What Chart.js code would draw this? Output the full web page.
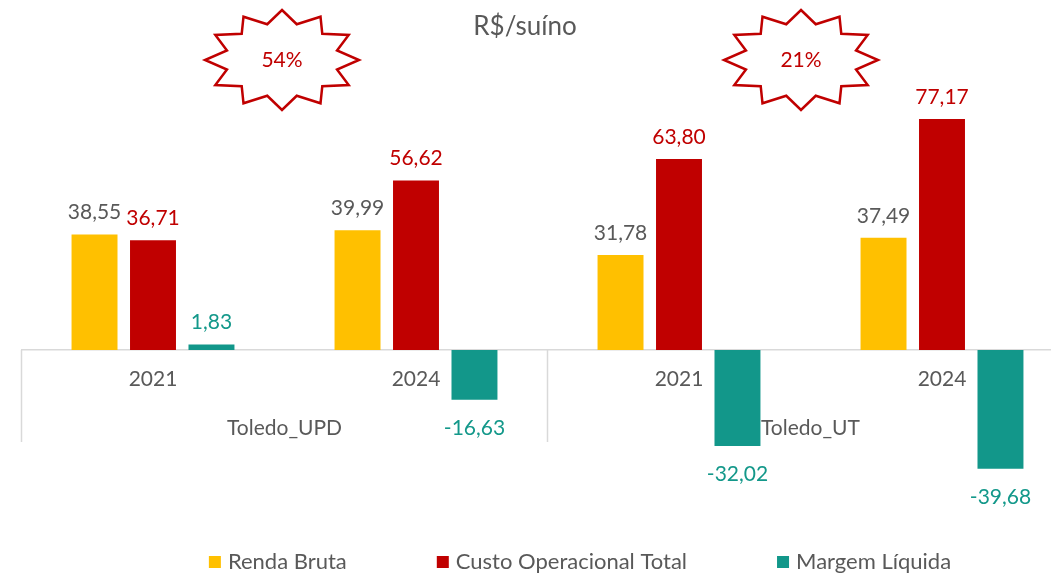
<!DOCTYPE html>
<html>
<head>
<meta charset="utf-8">
<script src="https://cdn.jsdelivr.net/npm/chart.js@4.4.1/dist/chart.umd.min.js"></script>
<style>
  html, body { margin: 0; padding: 0; background: #fff; overflow: hidden; }
  #wrap { width: 1051px; height: 573px; overflow: hidden; position: relative; }
</style>
</head>
<body>
<div id="wrap"><canvas id="c" width="1080" height="573"></canvas></div>
<script>
const years = ['2021', '2024', '2021', '2024'];
const groups = ['Toledo_UPD', 'Toledo_UT'];
const rendaBruta = [38.55, 39.99, 31.78, 37.49];
const custoTotal = [36.71, 56.62, 63.80, 77.17];
const margemLiquida = [1.83, -16.63, -32.02, -39.68];
const variacao = ['54%', '21%'];

const gray = '#595959';
const font = 'Lato, "Open Sans", sans-serif';
const labelColors = [gray, '#C00000', '#13988A'];

function fmt(v) {
  return v.toFixed(2).replace('.', ',');
}

function star(ctx, cx, cy, rx, ry, text) {
  ctx.save();
  ctx.beginPath();
  for (let i = 0; i < 24; i++) {
    let a = i * Math.PI / 12;
    let r = i % 2 === 0 ? 1 : 0.74;
    let px = cx + Math.sin(a) * rx * r;
    let py = cy - Math.cos(a) * ry * r;
    if (i === 0) ctx.moveTo(px, py); else ctx.lineTo(px, py);
  }
  ctx.closePath();
  ctx.fillStyle = '#fff';
  ctx.fill();
  ctx.lineWidth = 2.5;
  ctx.strokeStyle = '#C00000';
  ctx.stroke();
  ctx.fillStyle = '#C00000';
  ctx.font = `21px ${font}`;
  ctx.textAlign = 'center';
  ctx.textBaseline = 'middle';
  ctx.fillText(text, cx, cy);
  ctx.restore();
}

const extras = {
  id: 'extras',
  afterDraw(chart) {
    const ctx = chart.ctx;
    const x = chart.scales.x;
    const y = chart.scales.y;
    const zero = y.getPixelForValue(0);

    // valores nas barras
    ctx.save();
    ctx.font = `21px ${font}`;
    ctx.textAlign = 'center';
    ctx.textBaseline = 'middle';
    chart.data.datasets.forEach((ds, di) => {
      const meta = chart.getDatasetMeta(di);
      ctx.fillStyle = labelColors[di];
      meta.data.forEach((bar, i) => {
        const v = ds.data[i];
        const ty = v >= 0 ? bar.y - 22 : bar.y + 28;
        ctx.fillText(fmt(v), bar.x, ty);
      });
    });

    // separadores e nomes dos grupos
    const step = x.getPixelForValue(1) - x.getPixelForValue(0);
    ctx.strokeStyle = '#D9D9D9';
    ctx.lineWidth = 1.5;
    const seps = [x.getPixelForValue(0) - step / 2, x.getPixelForValue(2) - step / 2, x.getPixelForValue(3) + step / 2];
    seps.forEach(sx => {
      ctx.beginPath();
      ctx.moveTo(sx, zero);
      ctx.lineTo(sx, zero + 92);
      ctx.stroke();
    });
    ctx.fillStyle = gray;
    groups.forEach((g, gi) => {
      const gx = (x.getPixelForValue(gi * 2) + x.getPixelForValue(gi * 2 + 1)) / 2;
      ctx.fillText(g, gx, zero + 78);
    });

    // título
    ctx.font = `26px ${font}`;
    ctx.fillText('R$/suíno', 525, 27);
    ctx.restore();

    // estrelas
    const offs = [-2.5, -9.5];
    variacao.forEach((t, gi) => {
      const gx = (x.getPixelForValue(gi * 2) + x.getPixelForValue(gi * 2 + 1)) / 2 + offs[gi];
      star(ctx, gx, 60, 77, 50, t);
    });

    // legenda
    ctx.save();
    ctx.font = `22px ${font}`;
    ctx.textBaseline = 'middle';
    ctx.textAlign = 'left';
    const gap = 90;
    const widths = chart.data.datasets.map(ds => 12 + 7 + ctx.measureText(ds.label).width);
    const total = widths.reduce((a, b) => a + b, 0) + gap * (widths.length - 1);
    let lx = 580 - total / 2;
    chart.data.datasets.forEach((ds, di) => {
      ctx.fillStyle = ds.backgroundColor;
      ctx.fillRect(lx, 556, 12, 12);
      ctx.fillStyle = gray;
      ctx.fillText(ds.label, lx + 19, 562);
      lx += widths[di] + gap;
    });
    ctx.restore();
  }
};

new Chart(document.getElementById('c'), {
  type: 'bar',
  data: {
    labels: years,
    datasets: [
      { label: 'Renda Bruta', data: rendaBruta, backgroundColor: '#FFC000' },
      { label: 'Custo Operacional Total', data: custoTotal, backgroundColor: '#C00000' },
      { label: 'Margem Líquida', data: margemLiquida, backgroundColor: '#12978A' }
    ]
  },
  options: {
    responsive: false,
    animation: false,
    categoryPercentage: 0.667,
    barPercentage: 0.786,
    layout: { padding: { left: 21.5, right: 6.5, top: 80.6, bottom: 73.3 } },
    plugins: {
      legend: { display: false },
      tooltip: { enabled: false }
    },
    scales: {
      x: {
        position: { y: 0 },
        grid: { display: false, drawTicks: false },
        border: { color: '#D9D9D9', width: 1.5 },
        ticks: { color: gray, font: { family: font, size: 21 }, padding: 17 }
      },
      y: {
        display: false,
        min: -50,
        max: 90
      }
    }
  },
  plugins: [extras]
});
</script>
</body>
</html>
